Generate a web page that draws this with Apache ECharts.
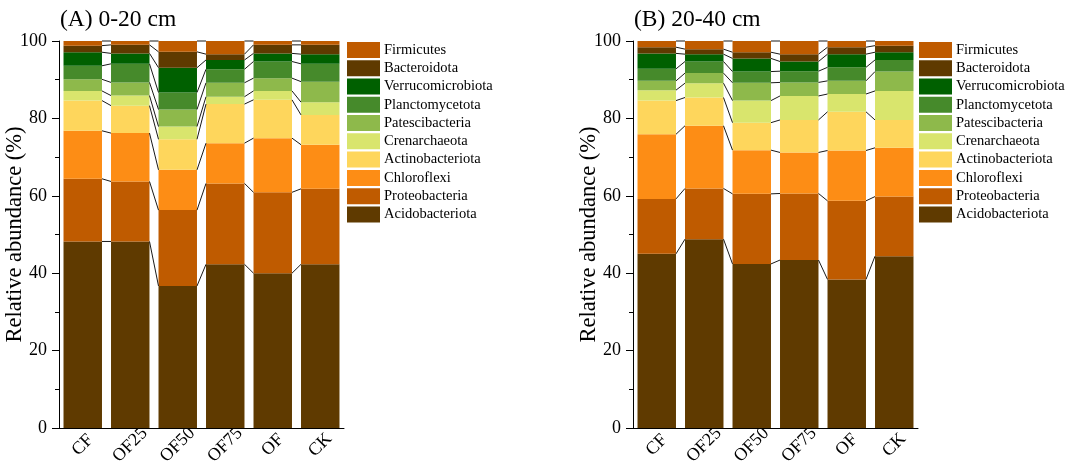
<!DOCTYPE html>
<html>
<head>
<meta charset="utf-8">
<script src="https://cdn.jsdelivr.net/npm/echarts@6/dist/echarts.min.js"></script>
<style>
  html, body { margin: 0; padding: 0; background: #fff; }
  #chart { width: 1067px; height: 468px; }
</style>
</head>
<body>
<div id="chart"></div>
<script>
// Treatments on the x axis
const categories = ['CF', 'OF25', 'OF50', 'OF75', 'OF', 'CK'];

// Phyla, bottom of the stack first
const phyla = ['Acidobacteriota', 'Proteobacteria', 'Chloroflexi', 'Actinobacteriota',
  'Crenarchaeota', 'Patescibacteria', 'Planctomycetota', 'Verrucomicrobiota',
  'Bacteroidota', 'Firmicutes'];
const phylumColors = ['#5f3a00', '#bf5b00', '#fd8d15', '#fed65c', '#d9e56d',
  '#8eb94b', '#468a2b', '#006000', '#5f3a00', '#bf5b00'];

// Relative abundance (%), depth 0-20 cm
const acidobacteriotaA   = [48.2, 48.2, 36.7, 42.3, 40.0, 42.3];
const proteobacteriaA    = [16.2, 15.5, 19.6, 20.9, 20.9, 19.5];
const chloroflexiA       = [12.4, 12.5, 10.4, 10.4, 14.0, 11.4];
const actinobacteriotaA  = [7.8, 7.1, 7.9, 10.1, 9.9, 7.7];
const crenarchaeotaA     = [2.5, 2.6, 3.3, 1.9, 2.3, 3.3];
const patescibacteriaA   = [3.0, 3.4, 4.4, 3.6, 3.3, 5.3];
const planctomycetotaA   = [3.5, 4.8, 4.4, 3.5, 4.3, 4.6];
const verrucomicrobiotaA = [3.5, 2.7, 6.4, 2.4, 2.1, 2.5];
const bacteroidotaA      = [1.7, 2.2, 4.1, 1.5, 2.2, 2.4];
const firmicutesA        = [1.2, 1.0, 2.8, 3.4, 1.0, 1.0];

// Relative abundance (%), depth 20-40 cm
const acidobacteriotaB   = [45.0, 48.8, 42.4, 43.4, 38.4, 44.4];
const proteobacteriaB    = [14.2, 13.1, 18.1, 17.2, 20.3, 15.4];
const chloroflexiB       = [16.7, 16.2, 11.3, 10.6, 13.0, 12.6];
const actinobacteriotaB  = [8.7, 7.3, 7.1, 8.4, 10.0, 7.2];
const crenarchaeotaB     = [2.7, 3.7, 5.7, 6.2, 4.6, 7.5];
const patescibacteriaB   = [2.4, 2.6, 4.6, 3.5, 3.4, 5.0];
const planctomycetotaB   = [3.1, 3.0, 2.9, 2.9, 3.5, 3.0];
const verrucomicrobiotaB = [4.0, 1.9, 3.4, 2.5, 3.4, 2.0];
const bacteroidotaB      = [1.6, 1.3, 1.6, 1.9, 1.8, 1.7];
const firmicutesB        = [1.6, 2.1, 2.9, 3.4, 1.6, 1.2];

// Y axis ticks
const yTicks = [0, 20, 40, 60, 80, 100];

const panels = [
  { title: '(A) 0-20 cm', left: 59, legendLeft: 347,
    values: [acidobacteriotaA, proteobacteriaA, chloroflexiA, actinobacteriotaA, crenarchaeotaA,
      patescibacteriaA, planctomycetotaA, verrucomicrobiotaA, bacteroidotaA, firmicutesA] },
  { title: '(B) 20-40 cm', left: 633, legendLeft: 919,
    values: [acidobacteriotaB, proteobacteriaB, chloroflexiB, actinobacteriotaB, crenarchaeotaB,
      patescibacteriaB, planctomycetotaB, verrucomicrobiotaB, bacteroidotaB, firmicutesB] }
];

const FONT = '"Liberation Serif", "Times New Roman", serif';
const BAR_FRACTION = 0.81;

const grids = [], xAxes = [], yAxes = [], series = [], titles = [], legends = [];

panels.forEach(function (p, gi) {
  grids.push({ left: p.left, top: 41, width: 285, height: 387,
    containLabel: false, outerBoundsMode: 'none' });
  titles.push({ text: p.title, left: p.left + 1, top: 8, padding: 0,
    textStyle: { fontFamily: FONT, fontSize: 23.5, fontWeight: 'normal', color: '#000' } });
  xAxes.push({
    type: 'category', gridIndex: gi, data: categories,
    axisLine: { lineStyle: { color: '#000', width: 1 } },
    axisTick: { show: false },
    axisLabel: { rotate: 45, align: 'center', verticalAlign: 'middle',
      fontFamily: FONT, fontSize: 18, color: '#000', margin: 17 }
  });
  yAxes.push({
    type: 'value', gridIndex: gi, min: yTicks[0], max: yTicks[yTicks.length - 1], interval: 20,
    name: 'Relative abundance (%)',
    nameLocation: 'middle', nameGap: 32, nameMoveOverlap: false,
    nameTextStyle: { fontFamily: FONT, fontSize: 22.5, color: '#000' },
    axisLine: { show: true, lineStyle: { color: '#000', width: 1 } },
    axisTick: { show: true, inside: false, length: 7, lineStyle: { color: '#000' } },
    minorTick: { show: true, splitNumber: 2, length: 4, lineStyle: { color: '#000' } },
    splitLine: { show: false },
    axisLabel: { fontFamily: FONT, fontSize: 18, color: '#000', margin: 12 }
  });

  // Stacked bars
  phyla.forEach(function (name, k) {
    series.push({
      name: name, type: 'bar', stack: 'total' + gi,
      xAxisIndex: gi, yAxisIndex: gi,
      barWidth: (BAR_FRACTION * 100) + '%',
      itemStyle: { color: phylumColors[k] },
      emphasis: { disabled: true },
      data: p.values[k]
    });
  });

  // Connector lines between neighbouring bars at each cumulative boundary
  const linkData = [];
  for (let i = 0; i < categories.length - 1; i++) {
    let cumL = 0, cumR = 0;
    for (let k = 0; k < phyla.length; k++) {
      cumL += p.values[k][i];
      cumR += p.values[k][i + 1];
      linkData.push([i, cumL, cumR]);
    }
  }
  series.push({
    type: 'custom', xAxisIndex: gi, yAxisIndex: gi, silent: true, z: 5,
    encode: { x: 0, y: [1, 2] },
    data: linkData,
    renderItem: function (params, api) {
      const i = api.value(0);
      const a = api.coord([i, api.value(1)]);
      const b = api.coord([i + 1, api.value(2)]);
      const half = api.size([1, 0])[0] * BAR_FRACTION / 2;
      return {
        type: 'line',
        shape: { x1: a[0] + half, y1: a[1], x2: b[0] - half, y2: b[1] },
        style: { stroke: '#1a1a1a', lineWidth: 1 }
      };
    }
  });

  legends.push({
    orient: 'vertical', left: p.legendLeft, top: 42, padding: 0,
    icon: 'rect', itemWidth: 33, itemHeight: 16, itemGap: 2.27,
    data: phyla.slice().reverse(),
    textStyle: { fontFamily: FONT, fontSize: 14.5, color: '#000', padding: [0, 0, 0, -1] },
    selectedMode: false
  });
});

const chart = echarts.init(document.getElementById('chart'), null, { renderer: 'canvas' });
chart.setOption({
  animation: false,
  backgroundColor: '#fff',
  title: titles,
  grid: grids,
  xAxis: xAxes,
  yAxis: yAxes,
  legend: legends,
  series: series
});
</script>
</body>
</html>
